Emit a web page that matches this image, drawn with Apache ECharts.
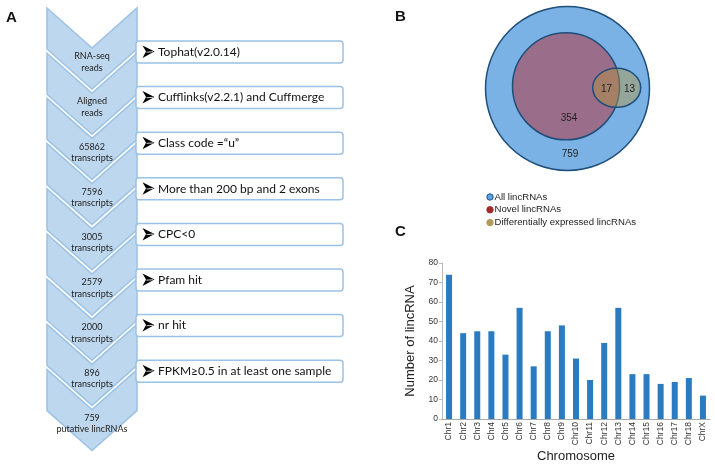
<!DOCTYPE html>
<html><head><meta charset="utf-8">
<script src="https://cdn.jsdelivr.net/npm/echarts@6/dist/echarts.min.js"></script>
<style>html,body{margin:0;padding:0;background:#fff}#c{width:715px;height:465px}</style>
</head><body><div id="c"></div>
<script>
// ---- data ----
const pipelineStages = ['RNA-seq\nreads', 'Aligned\nreads', '65862\ntranscripts', '7596\ntranscripts', '3005\ntranscripts', '2579\ntranscripts', '2000\ntranscripts', '896\ntranscripts', '759\nputative lincRNAs'];
const filterSteps = ['Tophat(v2.0.14)', 'Cufflinks(v2.2.1) and Cuffmerge', 'Class code =\u201cu\u201d', 'More than 200 bp and 2 exons', 'CPC<0', 'Pfam hit', 'nr hit', 'FPKM\u22650.5 in at least one sample'];
const vennSetNames = ['All lincRNAs', 'Novel lincRNAs', 'Differentially expressed lincRNAs'];
const vennRegionValues = [759, 354, 17, 13]; // all-only, novel-only, novel&DE, DE-only
const chromosomes = ['Chr1','Chr2','Chr3','Chr4','Chr5','Chr6','Chr7','Chr8','Chr9','Chr10','Chr11','Chr12','Chr13','Chr14','Chr15','Chr16','Chr17','Chr18','ChrX'];
const lincCounts = [74, 44, 45, 45, 33, 57, 27, 45, 48, 31, 20, 39, 57, 23, 23, 18, 19, 21, 12];

// ---- layout / styles ----
const SANS = 'Liberation Sans, Arial, sans-serif';
const CAL = 'Lato, sans-serif';
const g = [];
// panel letters
[['A', 6, 10], ['B', 395, 9], ['C', 395, 224]].forEach(([t, x, y]) => {
  g.push({type: 'text', style: {text: t, x: x, y: y, fontSize: 15, fontWeight: 'bold', fontFamily: SANS, fill: '#111'}});
});
// Panel A chevrons
const CX = 92, L = 47, R = 137, H = 41, D = 40, P = 45.2, Y0 = 8;
pipelineStages.forEach((t, i) => {
  const y = Y0 + P * i;
  g.push({type: 'polygon', z: 1, shape: {points: [[L, y], [CX, y + D], [R, y], [R, y + H], [CX, y + H + D], [L, y + H]]},
    style: {fill: '#bdd7ee', stroke: '#9cc2e5', lineWidth: 1.5}});
  g.push({type: 'text', z: 3, style: {text: t, x: CX, y: y + 54, align: 'center', verticalAlign: 'middle',
    fontSize: 9, fontFamily: CAL, fill: '#222', lineHeight: 11.5}});
});
filterSteps.forEach((t, i) => {
  const cy = 52 + 45.6 * i;
  g.push({type: 'rect', z: 4, shape: {x: 136, y: cy - 11, width: 207, height: 22, r: 3},
    style: {fill: '#fff', stroke: '#9cc2e5', lineWidth: 1.5}});
  // bullet arrowhead
  g.push({type: 'polygon', z: 5, shape: {points: [[142.5, cy - 6.5], [154.5, cy - 0.5], [142.5, cy + 6], [146, cy - 0.5]]},
    style: {fill: '#000'}});
  g.push({type: 'line', z: 6, shape: {x1: 146.5, y1: cy + 0.2, x2: 153, y2: cy - 0.3}, style: {stroke: '#fff', lineWidth: 0.8}});
  g.push({type: 'text', z: 5, style: {text: t, x: 158, y: cy, verticalAlign: 'middle', fontSize: 12, fontFamily: CAL, fill: '#111'}});
});
// Panel B Venn
g.push({type: 'circle', z: 1, shape: {cx: 567.5, cy: 88.5, r: 82}, style: {fill: '#7ab2e6', stroke: '#1f4e79', lineWidth: 1.5}});
g.push({type: 'circle', z: 2, shape: {cx: 566, cy: 86.3, r: 53.5}, style: {fill: '#9a6d8b', stroke: '#1f4e79', lineWidth: 1.5}});
g.push({type: 'ellipse', z: 3, shape: {cx: 616.7, cy: 87.8, rx: 24, ry: 19.5}, style: {fill: 'rgba(180,150,60,0.45)', stroke: '#1f4e79', lineWidth: 1.5}});
[[570, 154.5], [569, 118.5], [606.5, 89.5], [629.5, 89.5]].forEach(([x, y], i) => {
  g.push({type: 'text', z: 5, style: {text: String(vennRegionValues[i]), x: x, y: y, align: 'center', verticalAlign: 'middle', fontSize: 10, fontFamily: SANS, fill: '#222'}});
});
const legendColors = [['#5da4e6', '#1f4e79'], ['#a32a2a', '#a32a2a'], ['#b19a5c', '#b19a5c']];
vennSetNames.forEach((t, i) => {
  const y = 197 + 12.8 * i;
  g.push({type: 'circle', z: 5, shape: {cx: 490, cy: y, r: 3.2}, style: {fill: legendColors[i][0], stroke: legendColors[i][1], lineWidth: 1}});
  g.push({type: 'text', z: 5, style: {text: t, x: 494.5, y: y, verticalAlign: 'middle', fontSize: 9.6, fontFamily: SANS, fill: '#222'}});
});

const chart = echarts.init(document.getElementById('c'), null, {renderer: 'canvas'});
chart.setOption({
  animation: false,
  backgroundColor: '#fff',
  graphic: g,
  grid: {left: 442, top: 263, width: 268, height: 156},
  xAxis: {
    type: 'category', data: chromosomes,
    axisLine: {lineStyle: {color: '#aaa'}}, axisTick: {show: false},
    axisLabel: {rotate: 90, fontSize: 8.5, color: '#333', margin: 3, interval: 0, fontFamily: SANS},
    name: 'Chromosome', nameLocation: 'middle', nameGap: 31,
    nameTextStyle: {fontSize: 13, color: '#222', fontFamily: SANS}
  },
  yAxis: {
    type: 'value', min: 0, max: 80, interval: 10,
    axisLine: {show: true, lineStyle: {color: '#bbb'}},
    axisTick: {show: true, length: 3, lineStyle: {color: '#bbb'}},
    splitLine: {show: false},
    axisLabel: {fontSize: 8.5, color: '#333', margin: 4, fontFamily: SANS},
    name: 'Number of lincRNA', nameLocation: 'middle', nameGap: 25, nameRotate: 90,
    nameTextStyle: {fontSize: 13, color: '#222', fontFamily: SANS}
  },
  series: [{type: 'bar', data: lincCounts, barWidth: 6, itemStyle: {color: '#2a7bc0'}}]
});
</script></body></html>
